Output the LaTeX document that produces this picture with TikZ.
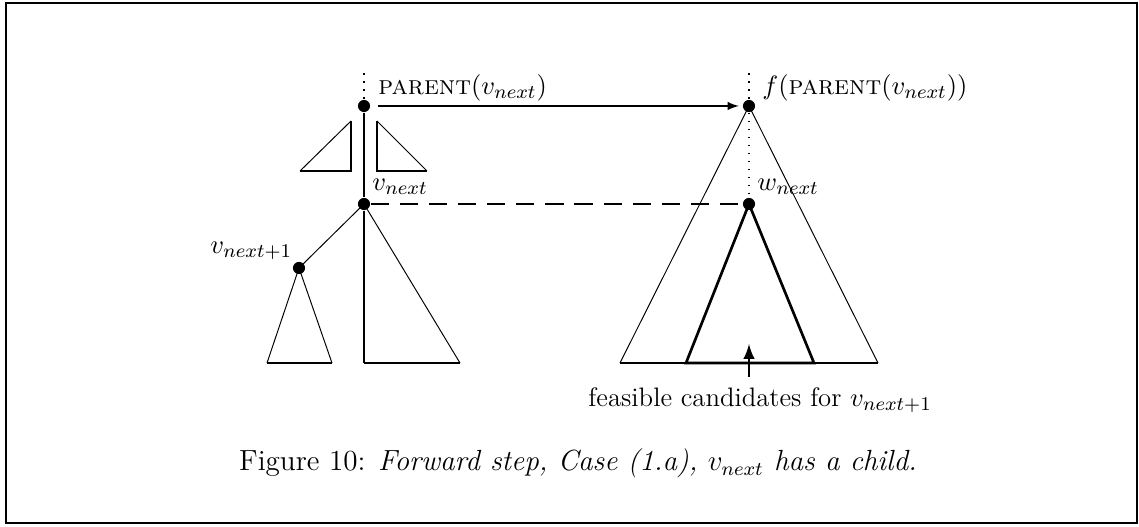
\documentclass[tikz,border=0pt]{standalone}
\usepackage{amsmath}
\usepackage{tikz}
\usetikzlibrary{arrows,positioning}

\begin{document}
\begin{tikzpicture}[
    x=0.412pt, y=-0.412pt,
    dot/.style={circle, fill=black, inner sep=0pt, minimum size=5pt},
    thinline/.style={line width=0.4pt},
    thickline/.style={line width=1.1pt},
    basestroke/.style={line width=0.9pt},
    dotline/.style={line width=0.7pt, dash pattern=on 0.7pt off 2.6pt},
    dashline/.style={line width=1.1pt, dash pattern=on 7.5pt off 4.5pt},
    arrow/.style={->, >=latex, line width=0.6pt},
    lab/.style={inner sep=0pt, anchor=base west, font=\fontsize{11}{13}\selectfont},
    frame/.style={line width=1pt}
]
    \useasboundingbox (0,0) rectangle (1139,527);
    \draw[frame] (6,3) rectangle (1137,523);

    % left tree
    \node[dot] (parent) at (364,106) {};
    \node[dot] (vnext) at (364,204) {};
    \node[dot] (vnextone) at (299,268) {};
    \coordinate (ptop) at (364,73);
    \coordinate (rbl) at (364,363);
    \coordinate (rbr) at (460,363);
    \coordinate (sbl) at (267,363);
    \coordinate (sbr) at (332,363);

    \draw[dotline] (ptop) -- (parent);
    \draw[thickline] (parent) -- (vnext) -- (rbl);
    \draw[thinline] (vnext.center) -- (vnextone.center);
    \draw[thinline] (vnext.center) -- (rbr);
    \draw[basestroke] (rbl) -- (rbr);
    \draw[thinline] (sbl) -- (vnextone.center) -- (sbr);
    \draw[basestroke] (sbl) -- (sbr);

    % subtrees beside the parent
    \draw[thinline] (300,171) -- (351,121);
    \draw[thickline] (351,121) -- (351,171) -- (300,171);
    \draw[thinline] (377,121) -- (427,171);
    \draw[thickline] (377,121) -- (377,171) -- (427,171);

    % right tree
    \node[dot] (fparent) at (749,106) {};
    \node[dot] (wnext) at (749,204) {};
    \coordinate (ftop) at (749,73);
    \coordinate (bigl) at (620,363);
    \coordinate (bigr) at (878,363);
    \coordinate (innl) at (686,363);
    \coordinate (innr) at (814,363);
    \coordinate (candfoot) at (749,377);
    \coordinate (candtip) at (749,344);

    \draw[dotline] (ftop) -- (fparent) -- (wnext);
    \draw[thinline] (bigl) -- (fparent.center) -- (bigr);
    \draw[basestroke] (bigl) -- (bigr);
    \draw[thickline, line join=miter] (innl) -- (wnext.center) -- (innr) -- cycle;
    \draw[arrow, line width=1.1pt] (candfoot) -- (candtip);

    % links between the trees
    \draw[arrow, shorten <=3pt, shorten >=1.5pt] (parent) -- (fparent);
    \draw[dashline] (vnext) -- (wnext);

    % labels
    \node[lab] (parentlab) at (378,95) {\textsc{parent}$(v_{next})$};
    \node[lab] (fparentlab) at (762,95) {$f(\textsc{parent}(v_{next}))$};
    \node[lab] (vnextlab) at (372,191) {$v_{next}$};
    \node[lab] (wnextlab) at (757,191) {$w_{next}$};
    \node[lab] (vnextonelab) at (210,254) {$v_{next+1}$};
    \node[lab] (candlab) at (588,407) {feasible candidates for $v_{next+1}$};

    \node[inner sep=0pt, anchor=base, font=\fontsize{12}{14}\selectfont] (caption) at (578,471)
        {Figure 10: \textit{Forward step, Case (1.a), $v_{next}$ has a child.}};
\end{tikzpicture}
\end{document}
